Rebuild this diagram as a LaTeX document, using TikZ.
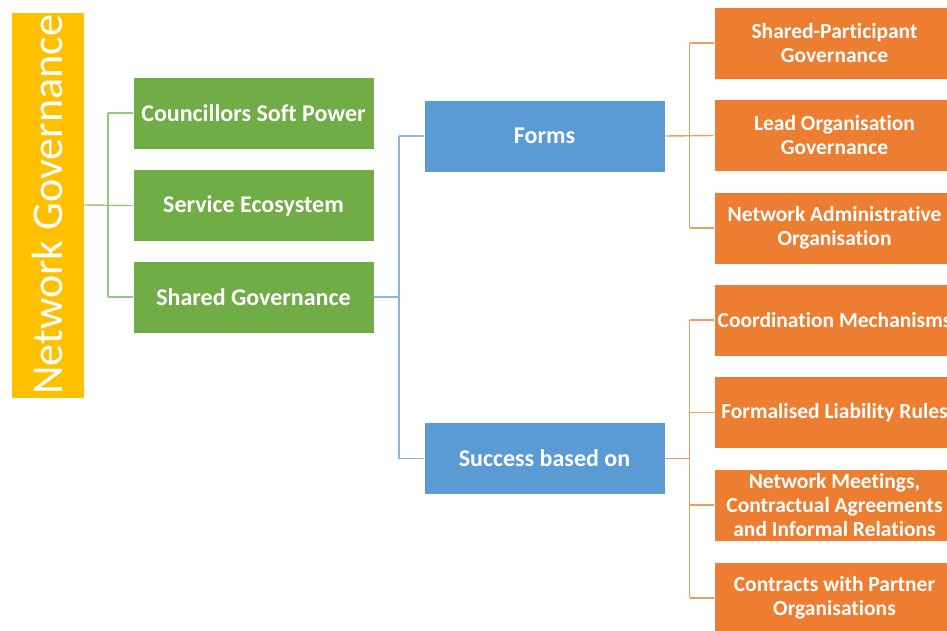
\documentclass[tikz,border=0pt]{standalone}
\usepackage{fontspec}
\setmainfont{Carlito}[Ligatures={NoCommon}]
\definecolor{rootc}{HTML}{FFC000}
\definecolor{greenc}{HTML}{70AD47}
\definecolor{greenl}{HTML}{A9D18E}
\definecolor{bluec}{HTML}{5B9BD5}
\definecolor{bluel}{HTML}{9DC3E6}
\definecolor{orangec}{HTML}{ED7D31}
\definecolor{orangel}{HTML}{F4B183}
\tikzset{
  boxbase/.style={draw=white, line width=0.6pt, minimum width=241pt, minimum height=72pt, inner sep=0pt, text=white, font=\fontsize{21.5}{24}\selectfont\bfseries, align=center},
  gbox/.style={boxbase, fill=greenc, font=\fontsize{24}{28}\selectfont\bfseries},
  bbox/.style={boxbase, fill=bluec, font=\fontsize{24}{28}\selectfont\bfseries},
  obox/.style={boxbase, fill=orangec},
  gline/.style={draw=greenl!70!greenc, line width=1.4pt},
  bline/.style={draw=bluel!70!bluec, line width=1.4pt},
  oline/.style={draw=orangel!60!orangec, line width=1.4pt},
}
\begin{document}
\begin{tikzpicture}[x=1pt,y=-1pt]
\path[use as bounding box] (0,0) rectangle (947,631);
\clip (0,0) rectangle (947,631);
% root
\node[fill=rootc, draw=white, line width=0.6pt, minimum width=386pt, minimum height=73pt, inner sep=0pt, rotate=90, text=white, font=\fontsize{44}{48}\selectfont] (root) at (47.5,205) {Network Governance};
% green
\node[gbox] (g1) at (253.5,113) {Councillors Soft Power};
\node[gbox] (g2) at (253.5,205.5) {Service Ecosystem};
\node[gbox] (g3) at (253.5,297) {Shared Governance};
% blue
\node[bbox] (b1) at (544.5,136) {Forms};
\node[bbox] (b2) at (544.5,458.5) {Success based on};
% orange
\node[obox] (o1) at (834.5,43) {Shared-Participant\\Governance};
\node[obox] (o2) at (834.5,135.5) {Lead Organisation\\Governance};
\node[obox] (o3) at (834.5,228) {Network Administrative\\Organisation};
\node[obox] (o4) at (834.5,320) {Coordination Mechanisms};
\node[obox] (o5) at (834.5,412.5) {Formalised Liability Rules};
\node[obox] (o6) at (834.5,505) {Network Meetings,\\Contractual Agreements\\and Informal Relations};
\node[obox] (o7) at (834.5,598) {Contracts with Partner\\Organisations};
% connectors
\coordinate (gt) at (108,205);
\draw[gline] (root.south) -- (g2.west);
\draw[gline] (gt |- g1.west) -- (g1.west);
\draw[gline] (gt |- g3.west) -- (g3.west);
\draw[gline] (gt |- g1.west) -- (gt |- g3.west);
\coordinate (bt) at (399,297);
\draw[bline] (g3.east) -- (bt);
\draw[bline] (bt |- b1.west) -- (bt |- b2.west);
\draw[bline] (bt |- b1.west) -- (b1.west);
\draw[bline] (bt |- b2.west) -- (b2.west);
\coordinate (ot) at (689.5,136);
\draw[oline] (b1.east) -- (o2.west);
\draw[oline] (ot |- o1.west) -- (ot |- o3.west);
\draw[oline] (ot |- o1.west) -- (o1.west);
\draw[oline] (ot |- o3.west) -- (o3.west);
\draw[oline] (b2.east) -- (ot |- b2.east);
\draw[oline] (ot |- o4.west) -- (ot |- o7.west);
\foreach \n in {o4,o5,o6,o7} \draw[oline] (ot |- \n.west) -- (\n.west);
\end{tikzpicture}
\end{document}
